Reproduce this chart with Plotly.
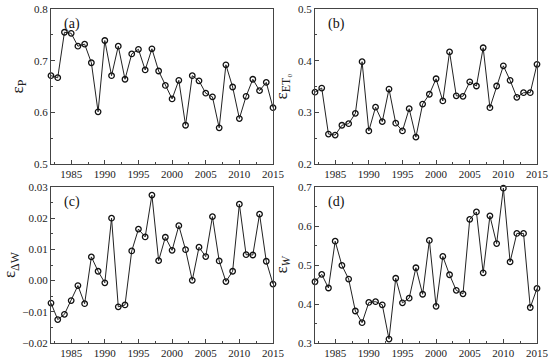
import plotly.graph_objects as go
from plotly.subplots import make_subplots

years = list(range(1982, 2016))

eps_p = [0.671, 0.667, 0.755, 0.753, 0.728, 0.732, 0.696, 0.601, 0.739, 0.671,
         0.728, 0.664, 0.713, 0.722, 0.682, 0.723, 0.680, 0.652, 0.626, 0.662,
         0.575, 0.671, 0.661, 0.637, 0.630, 0.570, 0.692, 0.649, 0.588, 0.631,
         0.664, 0.642, 0.658, 0.609]

eps_et0 = [0.339, 0.347, 0.258, 0.256, 0.275, 0.278, 0.298, 0.398, 0.264, 0.310,
           0.282, 0.345, 0.279, 0.264, 0.307, 0.252, 0.316, 0.335, 0.365, 0.322,
           0.417, 0.332, 0.331, 0.359, 0.351, 0.425, 0.309, 0.351, 0.390, 0.362,
           0.329, 0.338, 0.338, 0.393]

eps_dw = [-0.0072, -0.0125, -0.0108, -0.0064, -0.0016, -0.0074, 0.0076, 0.0030, -0.0007, 0.0200,
          -0.0084, -0.0078, 0.0095, 0.0165, 0.0140, 0.0274, 0.0064, 0.0139, 0.0097, 0.0176,
          0.0099, 0.0001, 0.0107, 0.0077, 0.0205, 0.0063, -0.0003, 0.0030, 0.0245, 0.0083,
          0.0082, 0.0213, 0.0062, -0.0011]

eps_w = [0.457, 0.476, 0.441, 0.561, 0.499, 0.464, 0.382, 0.352, 0.404, 0.406,
         0.398, 0.310, 0.466, 0.403, 0.415, 0.493, 0.425, 0.563, 0.394, 0.522,
         0.475, 0.435, 0.426, 0.617, 0.636, 0.480, 0.626, 0.555, 0.697, 0.508,
         0.581, 0.581, 0.391, 0.440]

panels = [
    ("(a)", eps_p, "ε<sub>P</sub>", [0.5, 0.8], 0.1, ".1f"),
    ("(b)", eps_et0, "ε<sub>ET₀</sub>", [0.2, 0.5], 0.1, ".1f"),
    ("(c)", eps_dw, "ε<sub>ΔW</sub>", [-0.02, 0.03], 0.01, ".2f"),
    ("(d)", eps_w, "ε<sub><i>W</i></sub>", [0.3, 0.7], 0.1, ".1f"),
]

W, H = 550, 364
xdoms = [(51 / W, 273 / W), (315 / W, 537 / W)]
ydoms = [(1 - 164 / H, 1 - 9 / H), (1 - 343 / H, 1 - 187 / H)]

fig = make_subplots(rows=2, cols=2)
font_family = "Liberation Serif, Times New Roman, serif"
axcol = "#444444"

for i, (lab, vals, title, yr, dt, fmt) in enumerate(panels):
    r, c = i // 2 + 1, i % 2 + 1
    fig.add_trace(go.Scatter(
        x=years, y=vals, mode="lines+markers",
        line=dict(color="#222222", width=1),
        marker=dict(symbol="circle-open", size=5.5, color="#111111", line=dict(width=1.3)),
        cliponaxis=False, showlegend=False), row=r, col=c)
    idx = "" if i == 0 else str(i + 1)
    fig.update_layout(**{
        f"xaxis{idx}": dict(domain=list(xdoms[c - 1]), range=[1982, 2015], automargin=False,
                            tick0=1985, dtick=5, ticks="inside", ticklen=4,
                            showline=True, mirror=True, linecolor=axcol, linewidth=1,
                            showgrid=False, zeroline=False,
                            tickfont=dict(family=font_family, size=11, color="#222"),
                            minor=dict(ticks="inside", dtick=2.5, tick0=1985, ticklen=2, tickcolor=axcol),
                            tickcolor=axcol),
        f"yaxis{idx}": dict(domain=list(ydoms[r - 1]), range=yr, automargin=False,
                            dtick=dt, ticks="inside", ticklen=4, tickformat=fmt,
                            showline=True, mirror=True, linecolor=axcol, linewidth=1,
                            showgrid=False, zeroline=False,
                            tickfont=dict(family=font_family, size=11, color="#222"),
                            minor=dict(ticks="inside", dtick=dt / 2, ticklen=2, tickcolor=axcol),
                            tickcolor=axcol,
                            title=dict(text=title, standoff=6,
                                       font=dict(family=font_family, size=17, color="#222"))),
    })
    fig.add_annotation(xref=f"x{idx} domain", yref=f"y{idx} domain", x=0.05, y=0.97,
                       xanchor="left", yanchor="top", text=lab, showarrow=False,
                       font=dict(family=font_family, size=14, color="#111"))

fig.update_layout(width=W, height=H, margin=dict(l=0, r=0, t=0, b=0, autoexpand=False),
                  paper_bgcolor="white", plot_bgcolor="white")
fig.write_html("out.html", config={"displayModeBar": False},
               post_script="document.body.style.margin='0px';")
